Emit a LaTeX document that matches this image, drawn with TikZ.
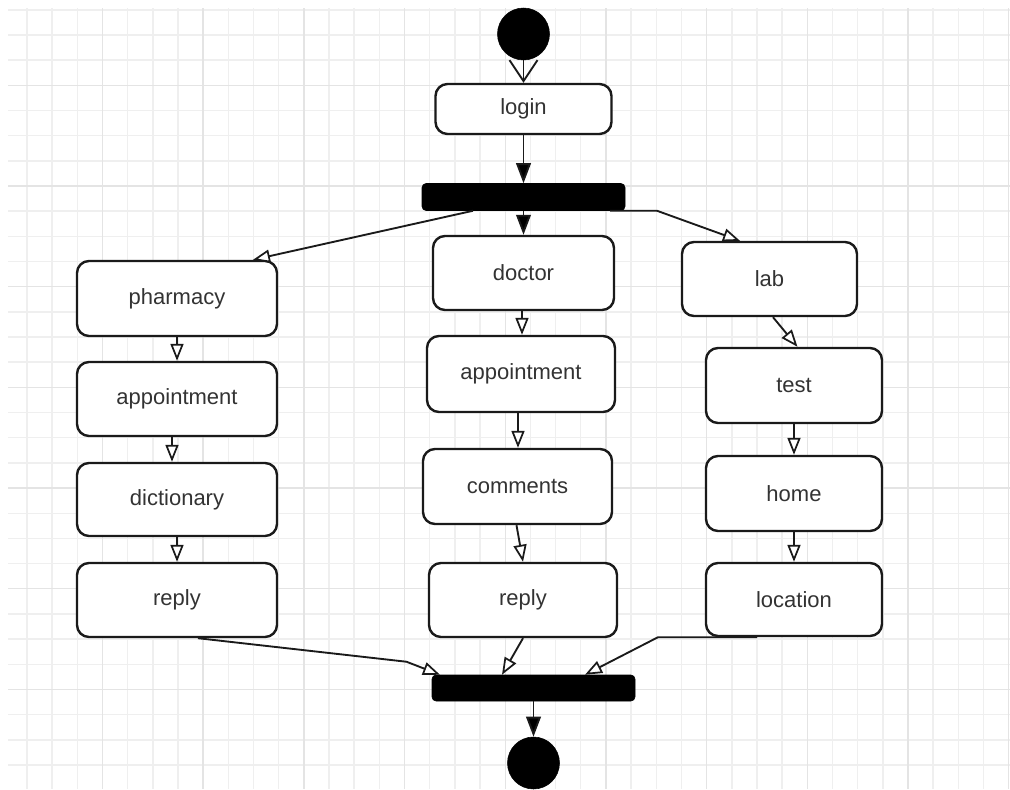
\documentclass[tikz,border=0pt]{standalone}
\usepackage{fontspec}
\setmainfont{Liberation Sans}
\usetikzlibrary{arrows.meta,calc}
\definecolor{txt}{HTML}{333333}
\definecolor{edge}{HTML}{1A1A1A}
\definecolor{gridlight}{HTML}{EFEFEF}
\definecolor{griddark}{HTML}{E4E4E4}
\tikzset{
  act/.style={draw=edge, line width=1.8pt, rounded corners=9pt, fill=white,
    text=txt, font=\fontsize{16.5pt}{19pt}\selectfont, inner sep=0pt},
  sz/.style 2 args={minimum width=#1*0.75pt, minimum height=#2*0.75pt},
  bar/.style={draw=black, fill=black, rounded corners=3pt, inner sep=0pt},
  dot/.style={circle, fill=black, draw=black, inner sep=0pt, minimum size=39pt},
  oarrow/.style={draw=edge, line width=1.4pt, -{Triangle[length=12.75pt, width=9.75pt, fill=white, line width=1.3pt]}},
  farrow/.style={draw=edge, line width=1.4pt, -{Triangle[length=15pt, width=11pt, fill=black]}},
  varrow/.style={draw=edge, line width=1.4pt, -{Straight Barb[length=15.75pt, width=21pt, line width=1.4pt]}},
  gl/.style={draw=gridlight, line width=1.1pt},
  gd/.style={draw=griddark, line width=1.1pt}
}
\begin{document}
\begin{tikzpicture}[x=0.75pt, y=-0.75pt]
\useasboundingbox (0,0) rectangle (1010,789);
\fill[white] (0,0) rectangle (1010,789);
% grid
\foreach \k in {0,...,39} \draw[gl] ({27+25.17*\k},8) -- ({27+25.17*\k},789);
\foreach \j in {-1,...,29} \draw[gl] (8,{35+25.17*\j}) -- (1010,{35+25.17*\j});
\foreach \k in {3,7,...,39} \draw[gd] ({27+25.17*\k},8) -- ({27+25.17*\k},789);
\foreach \j in {2,6,...,26} \draw[gd] (8,{35+25.17*\j}) -- (1010,{35+25.17*\j});

% start / end
\node[dot] (start) at (523.5,34) {};
\node[dot] (end) at (533.5,763) {};

% bars
\node[bar, sz={203}{27}] (fork) at (523.5,197) {};
\node[bar, sz={203}{26}] (join) at (533.5,688) {};

% activities
\node[act, sz={176}{50}] (login) at (523.5,109) {login};

\node[act, sz={200}{75}] (pharm) at (177,298.5) {pharmacy};
\node[act, sz={200}{74}] (lapp)  at (177,399) {appointment};
\node[act, sz={200}{73}] (dict)  at (177,499.5) {dictionary};
\node[act, sz={200}{74}] (lrep)  at (177,600) {reply};

\node[act, sz={181}{74}] (doctor) at (523.5,273) {doctor};
\node[act, sz={188}{76}] (mapp)   at (521,374) {appointment};
\node[act, sz={189}{75}] (comm)   at (517.5,486.5) {comments};
\node[act, sz={188}{74}] (mrep)   at (523,600) {reply};

\node[act, sz={175}{74}] (lab)  at (769.5,279) {lab};
\node[act, sz={176}{75}] (test) at (794,385.5) {test};
\node[act, sz={176}{75}] (home) at (794,493.5) {home};
\node[act, sz={176}{73}] (loc)  at (794,599.5) {location};

% connectors
\draw[varrow] (start.south) -- (login.north);
\draw[farrow] (login.south) -- (login.south |- fork.north);
\draw[farrow] (fork.south) -- (doctor.north);
\draw[oarrow] ($(fork.south)+(-50.5,0)$) -- ($(pharm.north)+(76,0)$);
\coordinate (labbend) at ($(fork.south)+(133.5,0)$);
\draw[oarrow] ($(fork.south)+(86.5,0)$) -- (labbend) -- ($(lab.north)+(-29.5,0)$);

\draw[oarrow] (pharm.south) -- (lapp.north);
\draw[oarrow] ($(lapp.south)+(-5,0)$) -- ($(dict.north)+(-5,0)$);
\draw[oarrow] (dict.south) -- (lrep.north);

\draw[oarrow] ($(doctor.south)+(-1.5,0)$) -- ($(mapp.north)+(1,0)$);
\draw[oarrow] ($(mapp.south)+(-3,0)$) -- ($(comm.north)+(0.5,0)$);
\draw[oarrow] ($(comm.south)+(-1,0)$) -- ($(mrep.north)+(0,0)$);

\draw[oarrow] ($(lab.south)+(3.5,0)$) -- ($(test.north)+(3.5,0)$);
\draw[oarrow] (test.south) -- (home.north);
\draw[oarrow] (home.south) -- (loc.north);

\coordinate (lbend) at ($(join.north)+(-127,-13)$);
\draw[oarrow] ($(lrep.south)+(21,0)$) -- (lbend) -- ($(join.north)+(-93.5,0)$);
\draw[oarrow] (mrep.south) -- ($(join.north)+(-31.5,0)$);
\coordinate (rbend) at ($(loc.south)+(-136,0)$);
\draw[oarrow] ($(loc.south)+(-37,0)$) -- (rbend) -- ($(join.north)+(51.5,0)$);

\draw[farrow] (join.south) -- (end.north);
\end{tikzpicture}
\end{document}
